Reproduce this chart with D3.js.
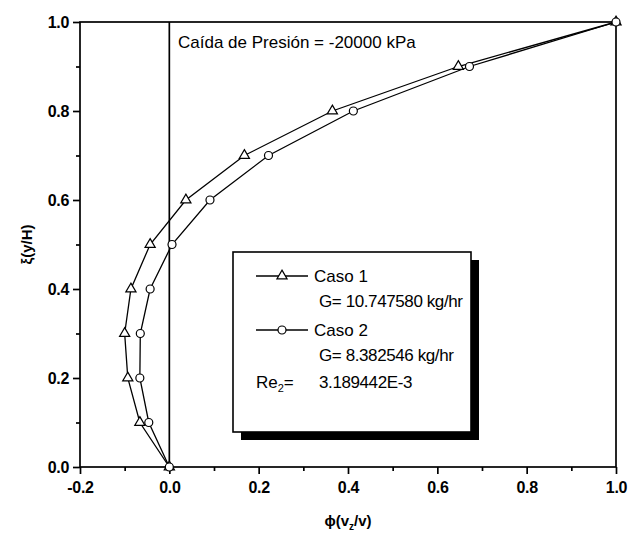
<!DOCTYPE html>
<meta charset="UTF-8">
<script src="https://d3js.org/d3.v7.min.js"></script>
<style>
  body { margin: 0; background: #fff; }
  text { font-family: "Liberation Sans", Arial, sans-serif; }
</style>
<svg id="chart" width="629" height="542"></svg>
<script>
// data
var yLevels = [0, 0.1, 0.2, 0.3, 0.4, 0.5, 0.6, 0.7, 0.8, 0.9, 1.0];
var caso1 = [0, -0.066, -0.093, -0.100, -0.086, -0.043, 0.037, 0.168, 0.365, 0.647, 1.0];
var caso2 = [0, -0.046, -0.066, -0.065, -0.043, 0.006, 0.091, 0.222, 0.412, 0.672, 1.0];
var xTicks = [-0.2, 0.0, 0.2, 0.4, 0.6, 0.8, 1.0];
var yTicks = [0.0, 0.2, 0.4, 0.6, 0.8, 1.0];

var svg = d3.select("#chart");
var mL = 80, mR = 616, mT = 22, mB = 467;

var x = d3.scaleLinear().domain([-0.2, 1.0]).range([mL, mR]);
var y = d3.scaleLinear().domain([0, 1]).range([mB, mT]);
var fmt = d => d.toFixed(1);

// minor ticks
svg.append("g").attr("transform", "translate(0," + mB + ")")
  .call(d3.axisBottom(x).tickValues(d3.range(-0.1, 1.0, 0.2)).tickSize(4).tickFormat(""))
  .call(g => g.select(".domain").remove());
svg.append("g").attr("transform", "translate(" + mL + ",0)")
  .call(d3.axisLeft(y).tickValues(d3.range(0.1, 1.0, 0.2)).tickSize(4).tickFormat(""))
  .call(g => g.select(".domain").remove());

// major ticks
var xMaj = svg.append("g").attr("transform", "translate(0," + mB + ")")
  .call(d3.axisBottom(x).tickValues(xTicks).tickSize(7).tickPadding(8).tickFormat(fmt));
xMaj.select(".domain").remove();
var yMaj = svg.append("g").attr("transform", "translate(" + mL + ",0)")
  .call(d3.axisLeft(y).tickValues(yTicks).tickSize(7).tickPadding(4).tickFormat(fmt));
yMaj.select(".domain").remove();
svg.selectAll(".tick line").attr("stroke-width", 1.7);
svg.selectAll(".tick text").attr("font-size", 16).attr("font-weight", "bold")
  .attr("font-family", "Liberation Sans, Arial, sans-serif").attr("letter-spacing", -0.3);

// frame
svg.append("rect")
  .attr("x", mL).attr("y", mT)
  .attr("width", mR - mL).attr("height", mB - mT)
  .attr("fill", "none").attr("stroke", "#000").attr("stroke-width", 1.7);

// zero line
svg.append("line")
  .attr("x1", x(0)).attr("x2", x(0)).attr("y1", mT).attr("y2", mB)
  .attr("stroke", "#000").attr("stroke-width", 1.7);

// axis titles
svg.append("text")
  .attr("transform", "translate(32," + ((mT + mB) / 2) + ") rotate(-90)")
  .attr("text-anchor", "middle").attr("font-size", 15).attr("font-weight", "bold")
  .text("ξ(y/H)");
var xt = svg.append("text")
  .attr("x", (mL + mR) / 2).attr("y", 526)
  .attr("text-anchor", "middle").attr("font-size", 15).attr("font-weight", "bold");
xt.append("tspan").text("ϕ(v");
xt.append("tspan").attr("font-size", 10).attr("dy", 4).text("z");
xt.append("tspan").attr("dy", -4).text("/v)");

// annotation
svg.append("text")
  .attr("x", 178).attr("y", 48).attr("font-size", 17)
  .text("Caída de Presión = -20000 kPa");

// series
var line = d3.line().x(d => x(d[0])).y(d => y(d[1]));
var tri = d3.symbol().type(d3.symbolTriangle).size(45);
var s1 = caso1.map((v, i) => [v, yLevels[i]]);
var s2 = caso2.map((v, i) => [v, yLevels[i]]);

svg.append("path").datum(s1).attr("d", line)
  .attr("fill", "none").attr("stroke", "#000").attr("stroke-width", 1.3);
svg.append("path").datum(s2).attr("d", line)
  .attr("fill", "none").attr("stroke", "#000").attr("stroke-width", 1.3);

svg.append("g").selectAll("path").data(s1).enter().append("path")
  .attr("d", tri)
  .attr("transform", d => "translate(" + x(d[0]) + "," + y(d[1]) + ")")
  .attr("fill", "#fff").attr("stroke", "#000").attr("stroke-width", 1.2);
svg.append("g").selectAll("circle").data(s2).enter().append("circle")
  .attr("cx", d => x(d[0])).attr("cy", d => y(d[1])).attr("r", 4)
  .attr("fill", "#fff").attr("stroke", "#000").attr("stroke-width", 1.2);

// legend box with shadow
var lx = 233, ly = 252, lw = 238, lh = 180;
svg.append("rect").attr("x", lx + 8).attr("y", ly + 8).attr("width", lw).attr("height", lh).attr("fill", "#000");
svg.append("rect").attr("x", lx).attr("y", ly).attr("width", lw).attr("height", lh)
  .attr("fill", "#fff").attr("stroke", "#000").attr("stroke-width", 1.6);

var lg = svg.append("g").attr("font-size", 17);
function legendRow(cy, marker) {
  lg.append("line").attr("x1", 256).attr("x2", 308).attr("y1", cy).attr("y2", cy)
    .attr("stroke", "#000").attr("stroke-width", 1.3);
  if (marker === "tri") {
    lg.append("path").attr("d", tri).attr("transform", "translate(282," + cy + ")")
      .attr("fill", "#fff").attr("stroke", "#000").attr("stroke-width", 1.2);
  } else {
    lg.append("circle").attr("cx", 282).attr("cy", cy).attr("r", 4)
      .attr("fill", "#fff").attr("stroke", "#000").attr("stroke-width", 1.2);
  }
}
legendRow(276, "tri");
lg.append("text").attr("x", 314).attr("y", 282).text("Caso 1");
lg.append("text").attr("x", 319).attr("y", 307).attr("letter-spacing", -0.4).text("G= 10.747580 kg/hr");
legendRow(330, "circ");
lg.append("text").attr("x", 314).attr("y", 336).text("Caso 2");
lg.append("text").attr("x", 319).attr("y", 361).attr("letter-spacing", -0.4).text("G= 8.382546 kg/hr");
var re = lg.append("text").attr("x", 256).attr("y", 388);
re.append("tspan").text("Re");
re.append("tspan").attr("font-size", 11).attr("dy", 4).text("2");
re.append("tspan").attr("dy", -4).text("=");
lg.append("text").attr("x", 319).attr("y", 388).attr("letter-spacing", -0.4).text("3.189442E-3");
</script>
